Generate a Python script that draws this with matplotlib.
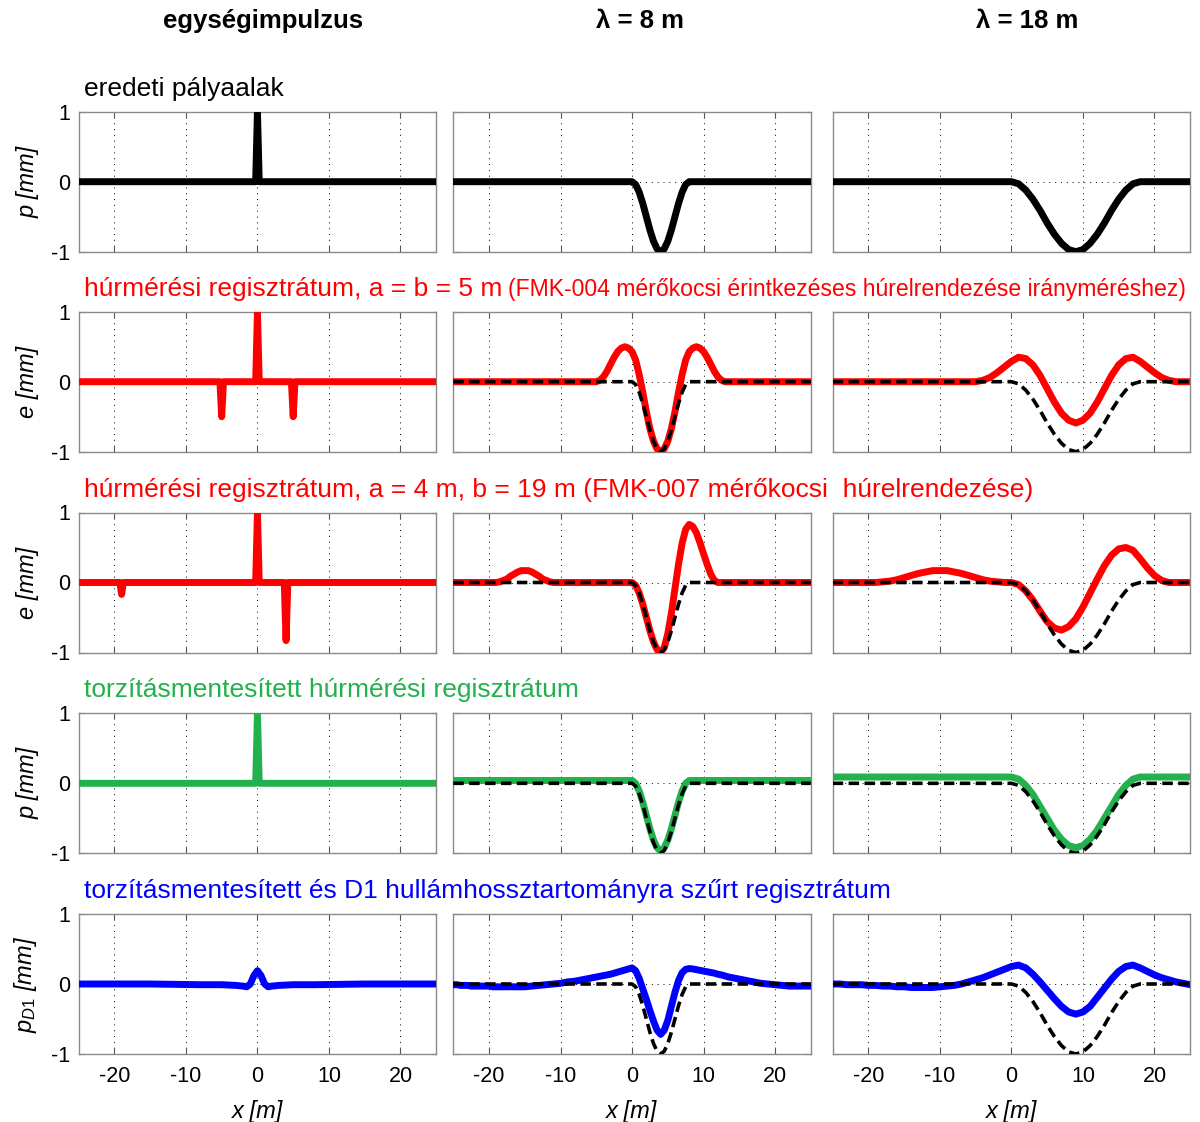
import matplotlib
matplotlib.use("Agg")
import matplotlib.pyplot as plt
import numpy as np

plt.rcParams['font.family'] = ['Liberation Sans', 'DejaVu Sans']
plt.rcParams['axes.unicode_minus'] = False
plt.rcParams['mathtext.fontset'] = 'custom'
plt.rcParams['mathtext.it'] = 'Liberation Sans:italic'
plt.rcParams['mathtext.rm'] = 'Liberation Sans'

# ---- column 1: unit impulse (x [m], value [mm]) ----
imp_x = [-25, -0.25, 0, 0.25, 25]
imp_y = [0, 0, 1, 0, 0]
e_ab5_imp_x = [-25, -5.25, -5, -4.75, -0.25, 0, 0.25, 4.75, 5, 5.25, 25]
e_ab5_imp_y = [0, 0, -0.5, 0, 0, 1, 0, 0, -0.5, 0, 0]
e_a4b19_imp_x = [-25, -19.25, -19, -18.75, -0.25, 0, 0.25, 3.75, 4, 4.25, 25]
e_a4b19_imp_y = [0, 0, -0.17, 0, 0, 1, 0, 0, -0.83, 0, 0]
d1_imp_x = [-25, -15, -8, -5, -3, -2, -1.5, -1, -0.5, 0, 0.5, 1, 1.5, 2, 3, 5, 8, 15, 25]
d1_imp_y = [0, 0, -0.01, -0.01, -0.02, -0.03, -0.04, 0.0, 0.12, 0.19, 0.12, 0.0, -0.04,
            -0.03, -0.02, -0.01, -0.01, 0, 0]

# ---- column 2: lambda = 8 m, sampled every 0.5 m ----
x_l8 = np.arange(-25, 25.5, 0.5)
p_l8 = ([0] * 50
        + [0, -0.04, -0.15, -0.31, -0.5, -0.69, -0.85, -0.96, -1, -0.96, -0.85, -0.69, -0.5,
           -0.31, -0.15, -0.04, 0]
        + [0] * 34)
e_ab5_l8 = ([0] * 40
            + [0, 0.02, 0.07, 0.15, 0.25, 0.35, 0.43, 0.48, 0.5, 0.48, 0.43, 0.31, 0.1, -0.15,
               -0.43, -0.67, -0.85, -0.96, -1, -0.96, -0.85, -0.67, -0.43, -0.15, 0.1, 0.31,
               0.43, 0.48, 0.5, 0.48, 0.43, 0.35, 0.25, 0.15, 0.07, 0.02, 0]
            + [0] * 24)
e_a4b19_l8 = ([0] * 12
              + [0, 0.01, 0.03, 0.05, 0.09, 0.12, 0.15, 0.17, 0.17, 0.17, 0.15, 0.12, 0.09,
                 0.05, 0.03, 0.01, 0]
              + [0] * 21
              + [0, -0.04, -0.15, -0.31, -0.5, -0.69, -0.85, -0.96, -1, -0.93, -0.73, -0.44,
                 -0.09, 0.26, 0.56, 0.76, 0.83, 0.8, 0.71, 0.57, 0.41, 0.26, 0.12, 0.03, 0]
              + [0] * 26)
g_l8 = ([0.04] * 50
        + [0.04, 0.0, -0.11, -0.27, -0.46, -0.65, -0.81, -0.92, -0.97, -0.92, -0.81, -0.65,
           -0.46, -0.27, -0.11, 0.0, 0.04]
        + [0.04] * 34)
d1_l8 = [-0.01, -0.01, -0.02, -0.02, -0.02, -0.03, -0.03, -0.03, -0.03, -0.03, -0.03, -0.04,
         -0.04, -0.04, -0.04, -0.04, -0.04, -0.04, -0.04, -0.04, -0.04, -0.035, -0.03, -0.025,
         -0.02, -0.015, -0.01, -0.005, 0.0, 0.005, 0.01, 0.02, 0.03, 0.035, 0.04, 0.05, 0.06,
         0.07, 0.08, 0.09, 0.1, 0.11, 0.12, 0.13, 0.14, 0.155, 0.17, 0.185, 0.2, 0.215, 0.23,
         0.19, 0.08, -0.07, -0.22, -0.38, -0.53, -0.66, -0.72, -0.66, -0.52, -0.32, -0.12, 0.05,
         0.16, 0.21, 0.22, 0.215, 0.205, 0.195, 0.185, 0.175, 0.165, 0.155, 0.14, 0.13, 0.115,
         0.1, 0.09, 0.08, 0.07, 0.06, 0.05, 0.04, 0.03, 0.02, 0.01, 0.005, 0.0, -0.005, -0.01,
         -0.015, -0.02, -0.025, -0.03, -0.03, -0.03, -0.03, -0.03, -0.03, -0.03]

# ---- column 3: lambda = 18 m, sampled every 1 m ----
x_l18 = np.arange(-25, 26)
p_l18 = [0] * 25 + [0, -0.03, -0.12, -0.25, -0.41, -0.59, -0.75, -0.88, -0.97, -1, -0.97,
                    -0.88, -0.75, -0.59, -0.41, -0.25, -0.12, -0.03, 0] + [0] * 7
e_ab5_l18 = [0] * 21 + [0.02, 0.06, 0.13, 0.21, 0.29, 0.35, 0.33, 0.24, 0.09, -0.1, -0.29,
                        -0.45, -0.55, -0.59, -0.55, -0.45, -0.29, -0.1, 0.09, 0.24, 0.33, 0.35,
                        0.29, 0.21, 0.13, 0.06, 0.02] + [0] * 3
e_a4b19_l18 = ([0] * 7 + [0.01, 0.02, 0.04, 0.07, 0.1, 0.13, 0.15, 0.17, 0.17, 0.17, 0.15, 0.13,
                          0.1, 0.07, 0.04, 0.02, 0.01] + [0, 0]
               + [-0.03, -0.12, -0.25, -0.41, -0.56, -0.65, -0.68, -0.63, -0.52, -0.35, -0.15,
                  0.05, 0.24, 0.39, 0.48, 0.5, 0.46, 0.34, 0.21, 0.1, 0.03] + [0] * 4)
g_l18 = [0.09] * 25 + [0.09, 0.06, -0.03, -0.16, -0.33, -0.5, -0.67, -0.8, -0.89, -0.92, -0.89,
                       -0.8, -0.67, -0.5, -0.33, -0.16, -0.03, 0.06, 0.09] + [0.09] * 7
d1_l18 = [0, 0, -0.01, -0.01, -0.01, -0.02, -0.02, -0.03, -0.03, -0.04, -0.04, -0.05, -0.05,
          -0.05, -0.05, -0.04, -0.03, -0.02, 0.0, 0.03, 0.06, 0.09, 0.13, 0.17, 0.21, 0.25, 0.27,
          0.23, 0.14, 0.03, -0.09, -0.21, -0.32, -0.4, -0.43, -0.4, -0.32, -0.19, -0.06, 0.07,
          0.18, 0.25, 0.27, 0.23, 0.18, 0.13, 0.09, 0.06, 0.03, 0.01, -0.01]

col_titles = ['egységimpulzus', 'λ = 8 m', 'λ = 18 m']
ylabels = ['p [mm]', 'e [mm]', 'e [mm]', 'p [mm]', r'$p_{D1}$ [mm]']

RED = '#ff0000'
GREEN = '#22b14c'
BLUE = '#0000ff'

rows = [
    ('k', [(imp_x, imp_y), (x_l8, p_l8), (x_l18, p_l18)]),
    (RED, [(e_ab5_imp_x, e_ab5_imp_y), (x_l8, e_ab5_l8), (x_l18, e_ab5_l18)]),
    (RED, [(e_a4b19_imp_x, e_a4b19_imp_y), (x_l8, e_a4b19_l8), (x_l18, e_a4b19_l18)]),
    (GREEN, [(imp_x, imp_y), (x_l8, g_l8), (x_l18, g_l18)]),
    (BLUE, [(d1_imp_x, d1_imp_y), (x_l8, d1_l8), (x_l18, d1_l18)]),
]
refs = [None, (x_l8, p_l8), (x_l18, p_l18)]

W, H = 1200, 1122
fig = plt.figure(figsize=(W / 100, H / 100), dpi=100)
col_left = [78.7, 453.3, 832.7]
row_top = [111.7, 311.7, 512.5, 713.3, 914]
ax_w, ax_h = 357.5, 140

for r, (color, curves) in enumerate(rows):
    for c, (xs, ys) in enumerate(curves):
        ax = fig.add_axes([col_left[c] / W, 1 - (row_top[r] + ax_h) / H, ax_w / W, ax_h / H])
        ax.plot(xs, ys, color=color, lw=5, solid_joinstyle='round', zorder=3)
        if r > 0 and refs[c] is not None:
            ax.plot(refs[c][0], refs[c][1], color='k', lw=2.6, dashes=(2.9, 1.5), zorder=4)
        ax.set_xlim(-25, 25)
        ax.set_ylim(-1, 1)
        ax.set_xticks([-20, -10, 0, 10, 20])
        ax.set_yticks([-1, 0, 1])
        ax.grid(True, color='k', lw=0.7, linestyle=(0, (1, 5)))
        ax.tick_params(direction='in', top=True, right=True, length=4, width=0.8,
                       color='#555555', labelsize=15.5)
        ax.tick_params(axis='x', pad=9)
        ax.tick_params(axis='y', pad=6)
        for s in ax.spines.values():
            s.set_color('#8a8a8a')
            s.set_linewidth(1)
        if c == 0:
            ax.set_ylabel(ylabels[r], fontsize=17, style='italic')
            ax.yaxis.set_label_coords(-0.11, 0.5)
        else:
            ax.set_yticklabels([])
        if r == 4:
            ax.set_xlabel('x [m]', fontsize=17, style='italic')
            ax.xaxis.set_label_coords(0.5, -0.33)
        else:
            ax.set_xticklabels([])

# column headers
head_x = [263, 640, 1027]
for c, t in enumerate(col_titles):
    fig.text(head_x[c] / W, 1 - 21 / H, t, ha='center', va='center', fontsize=18.5,
             fontweight='bold')

# row titles
title_x = 84 / W


def ty(r):
    return 1 - (row_top[r] - 16) / H


fig.text(title_x, ty(0), 'eredeti pályaalak', fontsize=19, va='baseline', color='k')
t2 = fig.text(title_x, ty(1), 'húrmérési regisztrátum, a = b = 5 m', fontsize=19,
              va='baseline', color=RED)
fig.text(title_x, ty(2), 'húrmérési regisztrátum, a = 4 m, b = 19 m (FMK-007 mérőkocsi  húrelrendezése)',
         fontsize=19, va='baseline', color=RED)
fig.text(title_x, ty(3), 'torzításmentesített húrmérési regisztrátum', fontsize=19,
         va='baseline', color=GREEN)
fig.text(title_x, ty(4), 'torzításmentesített és D1 hullámhossztartományra szűrt regisztrátum',
         fontsize=19, va='baseline', color=BLUE)

fig.canvas.draw()
bb = t2.get_window_extent(fig.canvas.get_renderer())
fig.text((bb.x1 + 6) / W, ty(1), '(FMK-004 mérőkocsi érintkezéses húrelrendezése irányméréshez)',
         fontsize=16.6, va='baseline', color=RED)

fig.savefig('out.png', dpi=100)
